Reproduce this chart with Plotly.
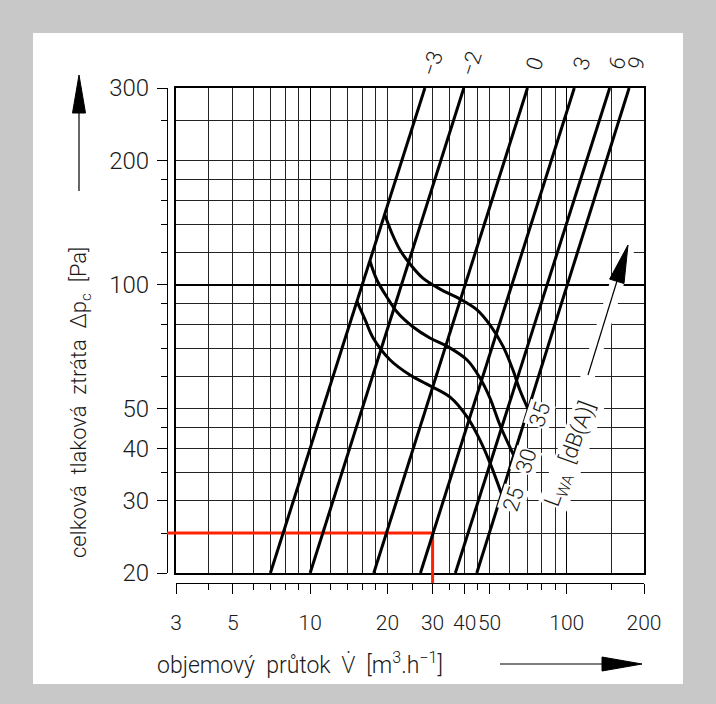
import numpy as np
import plotly.graph_objects as go

# ---- data -------------------------------------------------------------
# damper settings: straight pressure-drop lines, flow [m3/h] at 20 Pa and at 300 Pa
settings = ["−3", "−2", "0", "3", "6", "9"]
flow_at_20pa = [7.0, 10.0, 17.7, 26.9, 36.8, 44.6]
flow_at_300pa = [28.0, 39.7, 70.3, 107.0, 147.0, 175.0]

# sound power level curves L_WA [dB(A)]
noise_levels = ["25", "30", "35"]
noise25_flow = [15.2, 16.4, 17.6, 20.5, 24.5, 28.5, 35.1, 40.9, 45.9, 50.2, 55.7]
noise25_dp = [91.3, 82.1, 74.3, 65.7, 60.4, 57.4, 53.4, 47.8, 42.0, 37.0, 31.1]
noise30_flow = [17.1, 18.2, 19.9, 21.8, 25.2, 29.3, 34.1, 40.9, 45.9, 50.2, 54.9, 62.1]
noise30_dp = [114.2, 102.7, 93.4, 85.9, 79.0, 74.3, 71.0, 65.7, 59.4, 53.1, 45.7, 38.6]
noise35_flow = [19.5, 20.8, 22.4, 24.5, 27.5, 32.1, 38.4, 44.7, 50.2, 56.4, 61.7, 65.7, 70.6]
noise35_dp = [148.4, 133.5, 121.4, 112.3, 103.8, 97.6, 92.3, 86.9, 79.9, 71.0, 62.1, 55.5, 50.0]

# worked example (red)
example_flow = 30
example_dp = 25

# grid and tick values
flow_grid = [3, 4, 5, 6, 7, 8, 9, 10, 12, 14, 16, 18, 20, 25, 30, 35, 40, 45, 50,
             60, 70, 80, 90, 100, 150, 200]
dp_grid = [20, 25, 30, 35, 40, 45, 50, 60, 70, 80, 90, 100, 120, 140, 160, 180,
           200, 250, 300]
flow_ticks = [3, 5, 10, 20, 30, 40, 50, 100, 200]
dp_ticks = [20, 30, 40, 50, 100, 200, 300]

# ---- geometry ---------------------------------------------------------
W, H = 716, 704
ML, MR, MT, MB = 167, 72, 88, 121
PW, PH = W - ML - MR, H - MT - MB


def px(x, y):
    """pixel position -> paper coordinates"""
    return (x - ML) / PW, (H - MB - y) / PH


XD0 = px(176, 0)[0]
YD0 = px(0, 573)[1]
XR = [np.log10(flow_grid[0]), np.log10(flow_grid[-1])]
YR = [np.log10(dp_grid[0]), np.log10(dp_grid[-1])]

FONT = "Roboto"
INK = "#1a1a1a"


def tfont(size):
    return dict(family=FONT, size=size, color=INK, weight=300)


fig = go.Figure()

for v0, v1 in zip(flow_at_20pa, flow_at_300pa):
    fig.add_trace(go.Scatter(x=[v0, v1], y=[dp_grid[0], dp_grid[-1]], mode="lines",
                             line=dict(color="black", width=3),
                             hoverinfo="skip", showlegend=False))

noise_curves = [(noise25_flow, noise25_dp), (noise30_flow, noise30_dp),
                (noise35_flow, noise35_dp)]
for f, p in noise_curves:
    fig.add_trace(go.Scatter(x=f, y=p, mode="lines",
                             line=dict(color="black", width=3, shape="spline",
                                       smoothing=1.0),
                             hoverinfo="skip", showlegend=False))

# carrier trace for the offset tick axes
fig.add_trace(go.Scatter(x=[example_flow], y=[example_dp], xaxis="x2", yaxis="y2",
                         mode="markers", marker=dict(opacity=0),
                         hoverinfo="skip", showlegend=False))

minor_flow_grid = [v for v in flow_grid if v not in (10, 100)]
minor_dp_grid = [v for v in dp_grid if v != 100]

fig.update_layout(
    width=W, height=H,
    margin=dict(l=ML, r=MR, t=MT, b=MB, pad=0, autoexpand=False),
    template="none",
    paper_bgcolor="#c8c8c8", plot_bgcolor="white", showlegend=False,
    font=tfont(20),
    xaxis=dict(type="log", range=XR, domain=[XD0, 1], anchor="y",
               tickmode="array", tickvals=[10, 100], showticklabels=False, ticks="",
               showgrid=True, gridcolor="black", gridwidth=1.4,
               minor=dict(tickmode="array", tickvals=minor_flow_grid, ticks="",
                          showgrid=True, gridcolor="#222222", gridwidth=1),
               showline=True, linecolor="black", linewidth=1.5, mirror=True,
               zeroline=False, fixedrange=True, automargin=False),
    yaxis=dict(type="log", range=YR, domain=[YD0, 1], anchor="x",
               tickmode="array", tickvals=[100], showticklabels=False, ticks="",
               showgrid=True, gridcolor="black", gridwidth=2,
               minor=dict(tickmode="array", tickvals=minor_dp_grid, ticks="",
                          showgrid=True, gridcolor="#222222", gridwidth=1),
               showline=True, linecolor="black", linewidth=1.5, mirror=True,
               zeroline=False, fixedrange=True, automargin=False),
    xaxis2=dict(type="log", range=XR, overlaying="x", anchor="free", position=0,
                side="bottom", tickmode="array", tickvals=flow_ticks,
                ticktext=[str(v) for v in flow_ticks], tickangle=0,
                ticks="outside", ticklen=10, tickwidth=1.2, tickcolor="black",
                minor=dict(tickmode="array",
                           tickvals=[v for v in flow_grid if v not in flow_ticks],
                           ticks="outside", ticklen=6, tickwidth=1.2,
                           tickcolor="black", showgrid=False),
                showgrid=False, showline=True, linecolor="black", linewidth=1.2,
                zeroline=False, fixedrange=True, automargin=False,
                tickfont=tfont(21), ticklabelstandoff=11),
    yaxis2=dict(type="log", range=YR, overlaying="y", anchor="free", position=0,
                side="left", tickmode="array", tickvals=dp_ticks,
                ticktext=[str(v) for v in dp_ticks],
                ticks="outside", ticklen=10, tickwidth=1.2, tickcolor="black",
                minor=dict(tickmode="array",
                           tickvals=[v for v in dp_grid if v not in dp_ticks],
                           ticks="outside", ticklen=6, tickwidth=1.2,
                           tickcolor="black", showgrid=False),
                showgrid=False, showline=True, linecolor="black", linewidth=1.2,
                zeroline=False, fixedrange=True, automargin=False,
                tickfont=tfont(24), ticklabelstandoff=3),
)

shapes = []
# white panel
x0, y0 = px(33, 33)
x1, y1 = px(683, 684)
shapes.append(dict(type="rect", xref="paper", yref="paper", x0=x0, y0=y1, x1=x1, y1=y0,
                   fillcolor="white", line=dict(width=0), layer="below"))

# worked example in red
RED = "#ff2200"
shapes += [
    dict(type="line", xref="paper", yref="y", x0=0, x1=XD0, y0=example_dp, y1=example_dp,
         line=dict(color=RED, width=3), layer="above"),
    dict(type="line", xref="x", yref="y", x0=flow_grid[0], x1=example_flow,
         y0=example_dp, y1=example_dp, line=dict(color=RED, width=3), layer="between"),
    dict(type="line", xref="x", yref="y", x0=example_flow, x1=example_flow,
         y0=dp_grid[0], y1=example_dp, line=dict(color=RED, width=3), layer="between"),
    dict(type="line", xref="x", yref="paper", x0=example_flow, x1=example_flow,
         y0=0, y1=YD0, line=dict(color=RED, width=3), layer="above"),
]


def seg(a, b, color="black", width=1.2):
    (ax_, ay_), (bx_, by_) = px(*a), px(*b)
    return dict(type="line", xref="paper", yref="paper", x0=ax_, y0=ay_, x1=bx_, y1=by_,
                line=dict(color=color, width=width), layer="above")


def tri(p1, p2, p3):
    pts = [px(*p) for p in (p1, p2, p3)]
    path = "M{},{} L{},{} L{},{} Z".format(*[c for p in pts for c in p])
    return dict(type="path", xref="paper", yref="paper", path=path,
                fillcolor="black", line=dict(color="black", width=1), layer="above")


# white clearance around the L_WA arrow, then the arrow itself
shapes.append(seg((586, 382), (631, 238), color="white", width=14))
shapes.append(seg((588, 375), (617, 281)))
shapes.append(tri((628, 245), (624, 283.5), (609.6, 279.1)))
# axis direction arrows
shapes.append(seg((79, 191), (79, 110)))
shapes.append(tri((79, 75), (72.5, 113), (85.5, 113)))
shapes.append(seg((500, 664), (604, 664)))
shapes.append(tri((642, 664), (602, 657), (602, 671)))
fig.update_layout(shapes=shapes)

# setting labels above the pressure-drop lines
for s, v1 in zip(settings, flow_at_300pa):
    fig.add_annotation(x=np.log10(v1), y=np.log10(dp_grid[-1]), xref="x", yref="y",
                       xanchor="center", yanchor="middle",
                       text=s, showarrow=False, textangle=-72, xshift=7, yshift=25,
                       font=tfont(22))

# level labels at the ends of the noise curves
for lvl, (f, p) in zip(noise_levels, noise_curves):
    fig.add_annotation(x=np.log10(f[-1]), y=np.log10(p[-1]), xref="x", yref="y",
                       xanchor="center", yanchor="middle",
                       text=lvl, showarrow=False, textangle=-72, xshift=12, yshift=-6,
                       bgcolor="white", borderpad=0, font=tfont(22))

lx, ly = px(571, 454)
fig.add_annotation(x=lx, y=ly, xref="paper", yref="paper",
                   xanchor="center", yanchor="middle",
                   text="L<sub>WA</sub>\u00a0\u00a0[dB(A)]", showarrow=False,
                   textangle=-70, bgcolor="white", borderpad=0,
                   font=tfont(22))

# axis titles
tx, ty = px(80, 403)
fig.add_annotation(x=tx, y=ty, xref="paper", yref="paper",
                   xanchor="center", yanchor="middle",
                   text="celková\u00a0\u00a0tlaková\u00a0\u00a0ztráta\u00a0\u00a0Δp<sub>c</sub>\u00a0\u00a0[Pa]",
                   showarrow=False, textangle=-90, font=tfont(22))
tx, ty = px(155, 664)
vdot = "<span style='font-family:Open Sans;font-weight:300'>V\u0307</span>"
fig.add_annotation(x=tx, y=ty, xref="paper", yref="paper",
                   xanchor="left", yanchor="middle",
                   text="objemový\u00a0\u00a0průtok\u00a0\u00a0" + vdot
                        + "\u00a0\u00a0[m<sup>3</sup>.h<sup>−1</sup>]",
                   showarrow=False, font=tfont(23))

fig.write_html("out.html")
